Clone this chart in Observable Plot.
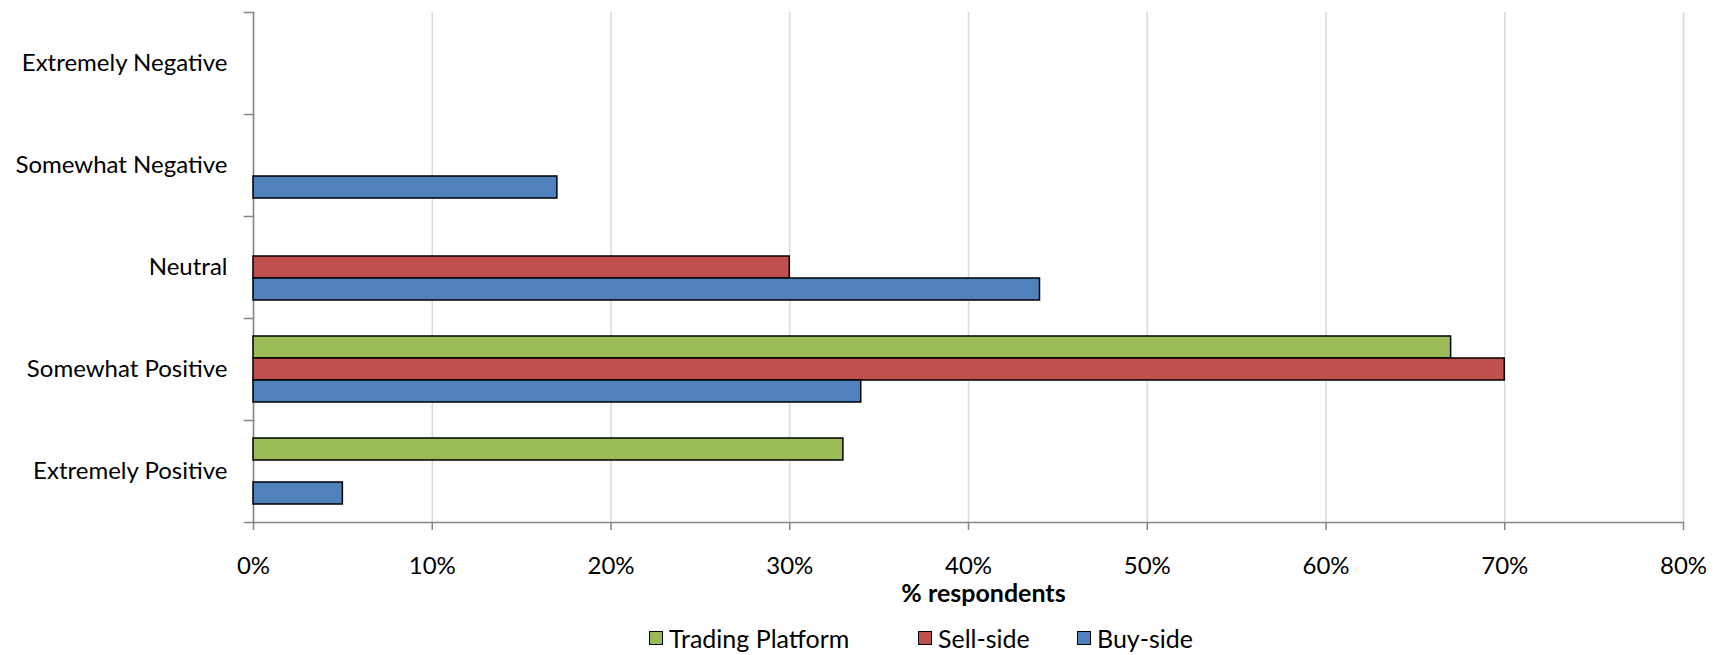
<!DOCTYPE html>
<html>
<head>
<meta charset="utf-8">
<script src="https://cdn.jsdelivr.net/npm/d3@7"></script>
<script src="https://cdn.jsdelivr.net/npm/@observablehq/plot@0.6"></script>
<style>
  body { margin: 0; background: #fff; font-family: Lato, "Open Sans", sans-serif; }
  #wrap { position: relative; width: 1719px; height: 655px; }
  #legend { position: absolute; left: 0; top: 623px; width: 1719px; height: 30px; font-size: 25px; color: #000; }
  .item { position: absolute; top: 0; height: 30px; display: flex; align-items: center; white-space: nowrap; }
  .sw { width: 12px; height: 12px; border: 1.5px solid #000; margin-right: 6px; }
</style>
</head>
<body>
<div id="wrap">
<div id="chart"></div>
<div id="legend"></div>
</div>
<script>
const categories = ["Extremely Negative", "Somewhat Negative", "Neutral", "Somewhat Positive", "Extremely Positive"];
const seriesNames = ["Trading Platform", "Sell-side", "Buy-side"];
const seriesColors = ["#9BBB59", "#C0504D", "#4F81BD"];
const tradingPlatform = [0, 0, 0, 67, 33];
const sellSide = [0, 0, 30, 70, 0];
const buySide = [0, 17, 44, 34, 5];
const xTicks = [0, 10, 20, 30, 40, 50, 60, 70, 80];
const xLabel = "% respondents";
const legendLeft = [649, 918, 1077];

const seriesValues = [tradingPlatform, sellSide, buySide];
const rows = [];
categories.forEach((c, i) => {
  seriesNames.forEach((s, j) => {
    const v = seriesValues[j][i];
    if (v > 0) rows.push({category: c, series: s, value: v});
  });
});

const axisGray = "#868686";
const plotWidth = 1719 - 253 - 36;

const chart = Plot.plot({
  width: 1719,
  height: 612,
  marginTop: 11,
  marginBottom: 89,
  marginLeft: 253,
  marginRight: 36,
  style: {fontFamily: "Lato, 'Open Sans', sans-serif", fontSize: "24px", color: "#000", background: "#fff"},
  x: {domain: [0, 80], axis: null},
  y: {domain: seriesNames, paddingInner: 0, paddingOuter: 0.725, axis: null},
  fy: {domain: categories, padding: 0, axis: null},
  color: {domain: seriesNames, range: seriesColors},
  marks: [
    Plot.gridX(xTicks, {stroke: "#d9d9d9", strokeOpacity: 1, strokeWidth: 1.5}),
    Plot.ruleX(categories, {fy: d => d, x: 0, stroke: axisGray, strokeWidth: 1.5}),
    Plot.frame({anchor: "top", stroke: axisGray, strokeWidth: 1.5, insetLeft: -9, insetRight: plotWidth}),
    Plot.frame({anchor: "bottom", stroke: axisGray, strokeWidth: 1.5, insetLeft: -9, insetRight: plotWidth, facetAnchor: "bottom"}),
    Plot.frame({anchor: "bottom", stroke: axisGray, strokeWidth: 1.5, facetAnchor: "bottom"}),
    Plot.barX(rows, {fy: "category", y: "series", x: "value", fill: "series", stroke: "#000", strokeWidth: 1.5}),
    Plot.axisFy({anchor: "left", tickSize: 0, tickPadding: 26, label: null, fill: "#000"}),
    Plot.axisX({ticks: xTicks, tickFormat: d => d + "%", tickSize: 8, tickPadding: 26, stroke: axisGray, strokeWidth: 1.5, label: null, fill: "#000"}),
    Plot.text([xLabel], {frameAnchor: "bottom", dy: 79, dx: 15, fontWeight: "bold", fontSize: 25, fill: "#000", facetAnchor: "bottom"})
  ]
});
document.getElementById("chart").appendChild(chart);

const legend = d3.select("#legend");
seriesNames.forEach((s, i) => {
  const it = legend.append("div").attr("class", "item").style("left", legendLeft[i] + "px");
  it.append("div").attr("class", "sw").style("background", seriesColors[i]);
  it.append("span").text(s);
});
</script>
</body>
</html>
